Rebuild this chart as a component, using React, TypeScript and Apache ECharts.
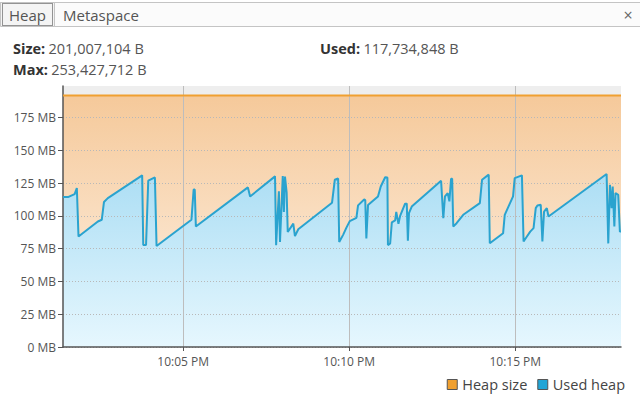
import React, { useEffect, useRef } from "react";
import * as echarts from "echarts";

// time in seconds after 10:00 PM
const usedTimes = [
  83, 92, 104, 108, 111, 146, 153, 157, 164, 226, 228, 233, 237, 249, 252,
  315, 319, 321, 323, 417, 421, 466, 468, 473, 475, 480, 482, 484, 487, 489,
  499, 502, 508, 569, 574, 580, 582, 589, 595, 601, 613, 616, 627, 629, 631,
  634, 652, 657, 665, 669, 670, 674, 677, 683, 685, 689, 692, 701, 704, 706,
  708, 713, 766, 770, 773, 778, 781, 784, 786, 788, 794, 806, 836, 840, 852,
  854, 878, 881, 896, 899, 912, 915, 921, 927, 933, 937, 940, 946, 949, 952,
  957, 960, 1065, 1068, 1071, 1074, 1076, 1079, 1081, 1086, 1089, 1091,
];
const usedMB = [
  114.3, 114.3, 116.6, 121.2, 84.2, 95.7, 97, 110.5, 113.5, 130.9, 77.8, 77.8, 126.8, 129.3, 77,
  97, 120, 120, 91.9, 121.7, 114.8, 130.1, 77.6, 118.7, 80.1, 130.3, 103, 130, 117.8, 87.7,
  94.1, 84.5, 89.8, 110, 127.5, 128.5, 80, 85.5, 91, 96, 98.5, 108, 112.5, 112, 82.8,
  108.2, 114.8, 122.4, 129.4, 129.3, 77.7, 79, 95, 96.5, 103, 94, 100, 109.3, 109.3, 81,
  102, 107.1, 126.8, 98.2, 114.8, 117.3, 111, 128.3, 128.3, 91.9, 94.4, 100.8, 109.7, 127.5, 131.4,
  79.1, 86.7, 100.8, 114.8, 128.8, 130.9, 80.4, 84.2, 88, 90.6, 105.9, 107.9, 108.4, 80.4, 103.3,
  105.9, 99.5, 131.9, 79, 123.7, 105.9, 122.4, 91.9, 117.3, 116, 88, 88,
];
const heapTimes = [83, 1091];
const heapMB = [191.7, 191.7];
const xTicks = [300, 600, 900];
const yTicks = [0, 25, 50, 75, 100, 125, 150, 175];
const legendNames = ["Heap size", "Used heap"];
const tabLabels = ["Heap", "Metaspace"];
const stats = [
  { label: "Size:", value: "201,007,104 B" },
  { label: "Used:", value: "117,734,848 B" },
  { label: "Max:", value: "253,427,712 B" },
];

const FONT = "'Open Sans', sans-serif";

export default function App() {
  const ref = useRef<HTMLDivElement>(null);
  useEffect(() => {
    if (!ref.current) return;
    const chart = echarts.init(ref.current, undefined, { renderer: "svg" });
    const used = usedTimes.map((t, i) => [t, usedMB[i]]);
    const heap = heapTimes.map((t, i) => [t, heapMB[i]]);
    const fmtTime = (v: number) => {
      const m = Math.floor(v / 60);
      return `10:${String(m).padStart(2, "0")} PM`;
    };
    const statPos = [
      [13, 48],
      [320, 48],
      [13, 69],
    ];
    chart.setOption({
      animation: false,
      backgroundColor: "#ffffff",
      textStyle: { fontFamily: FONT },
      graphic: [
        { type: "rect", shape: { x: 0, y: 2, width: 640, height: 24 }, style: { fill: "#fbfbfb" }, silent: true },
        { type: "line", shape: { x1: 0, y1: 2.5, x2: 640, y2: 2.5 }, style: { stroke: "#c4c4c4", lineWidth: 1 } },
        { type: "line", shape: { x1: 54, y1: 26.5, x2: 640, y2: 26.5 }, style: { stroke: "#c4c4c4", lineWidth: 1 } },
        { type: "rect", shape: { x: 0.5, y: 2.5, width: 54, height: 24 }, style: { fill: "#f4f4f4", stroke: "#c4c4c4", lineWidth: 1 } },
        { type: "rect", shape: { x: 2.5, y: 3.5, width: 50, height: 22 }, style: { fill: "none", stroke: "#333", lineWidth: 1, lineDash: [1, 1] } },
        { type: "text", x: 9, y: 15, style: { text: tabLabels[0], font: `15px ${FONT}`, fill: "#555", verticalAlign: "middle" } },
        { type: "text", x: 63, y: 15, style: { text: tabLabels[1], font: `15px ${FONT}`, fill: "#555", verticalAlign: "middle" } },
        { type: "text", x: 628, y: 15, style: { text: "×", font: `16px ${FONT}`, fill: "#666", align: "center", verticalAlign: "middle" } },
        ...stats.map((s, i) => ({
          type: "text",
          x: statPos[i][0],
          y: statPos[i][1],
          style: {
            text: `{b|${s.label}} {v|${s.value}}`,
            verticalAlign: "middle",
            rich: {
              b: { fontFamily: FONT, fontSize: 14.5, fontWeight: "bold", fill: "#333", color: "#333" },
              v: { fontFamily: FONT, fontSize: 14.5, fill: "#555", color: "#555" },
            },
          },
        })),
      ],
      legend: {
        right: 10,
        top: 372,
        itemWidth: 10,
        itemHeight: 10,
        itemGap: 10,
        icon: "rect",
        textStyle: { fontFamily: FONT, fontSize: 14.5, color: "#444" },
        data: [
          { name: legendNames[0], itemStyle: { color: "#f0a030", borderColor: "#555", borderWidth: 1 } },
          { name: legendNames[1], itemStyle: { color: "#22a5d6", borderColor: "#555", borderWidth: 1 } },
        ],
      },
      grid: {
        left: 63,
        top: 86,
        right: 19,
        bottom: 49,
        show: true,
        backgroundColor: "#eeeeee",
        borderWidth: 0,
      },
      xAxis: {
        type: "value",
        min: heapTimes[0],
        max: heapTimes[heapTimes.length - 1],
        z: 2,
        axisLine: { show: true, onZero: false, lineStyle: { color: "#555", width: 1.5 } },
        axisTick: { show: true, length: 4, customValues: xTicks, lineStyle: { color: "#555" } },
        axisLabel: {
          customValues: xTicks,
          formatter: fmtTime,
          color: "#555",
          fontFamily: FONT,
          fontSize: 12,
          margin: 8,
        },
        splitLine: { show: true, lineStyle: { color: "#bdbdbd", width: 1, type: "solid" } },
      },
      yAxis: {
        type: "value",
        min: 0,
        max: 199,
        z: 2,
        axisLine: { show: true, lineStyle: { color: "#555", width: 1.5 } },
        axisTick: { show: true, length: 5, customValues: yTicks, lineStyle: { color: "#555" } },
        axisLabel: {
          customValues: yTicks,
          formatter: (v: number) => `${v} MB`,
          color: "#555",
          fontFamily: FONT,
          fontSize: 12,
          margin: 7,
        },
        splitLine: { show: true, lineStyle: { color: "#b8b8b8", width: 1, type: [1, 2] } },
      },
      series: [
        {
          name: "heapArea",
          type: "line",
          data: heap,
          z: 1,
          symbol: "none",
          lineStyle: { width: 0 },
          areaStyle: {
            opacity: 1,
            color: new echarts.graphic.LinearGradient(0, 0, 0, 1, [
              { offset: 0, color: "#f5c99a" },
              { offset: 1, color: "#fef3e8" },
            ]),
          },
          silent: true,
        },
        {
          name: "usedArea",
          type: "line",
          data: used,
          z: 1,
          symbol: "none",
          lineStyle: { width: 0 },
          areaStyle: {
            opacity: 1,
            color: new echarts.graphic.LinearGradient(0, 0, 0, 1, [
              { offset: 0, color: "#acdef4" },
              { offset: 1, color: "#e6f7fe" },
            ]),
          },
          silent: true,
        },
        {
          name: legendNames[0],
          type: "line",
          data: heap,
          z: 3,
          symbol: "none",
          itemStyle: { color: "#f0a030" },
          lineStyle: { color: "#f0a030", width: 2 },
        },
        {
          name: legendNames[1],
          type: "line",
          data: used,
          z: 3,
          symbol: "none",
          itemStyle: { color: "#22a5d6" },
          lineStyle: { color: "#2aa3cf", width: 2 },
        },
      ],
    });
    return () => chart.dispose();
  }, []);
  return (
    <div
      ref={ref}
      style={{ position: "fixed", left: 0, top: 0, width: 640, height: 396 }}
    />
  );
}
